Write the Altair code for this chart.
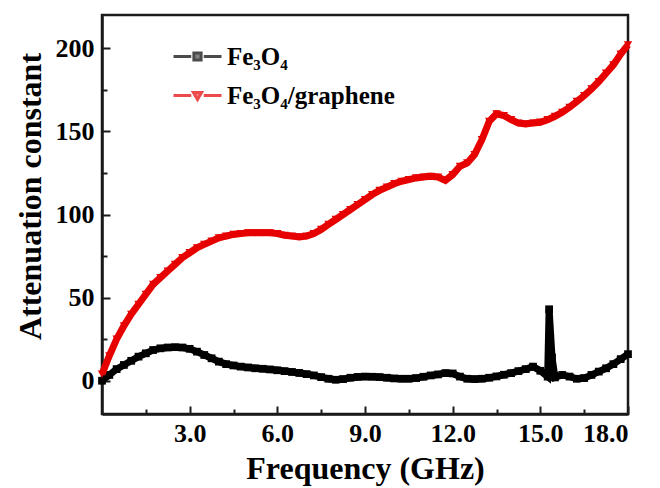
import altair as alt
import pandas as pd

# Attenuation constant vs. frequency for the two absorbers
freq_fe3o4 = [
    0.00, 0.25, 0.50, 0.75, 1.00, 1.25, 1.50, 1.75, 2.00, 2.25, 2.50, 2.75,
    3.00, 3.25, 3.50, 3.75, 4.00, 4.25, 4.50, 4.75, 5.00, 5.25, 5.50, 5.75,
    6.00, 6.25, 6.50, 6.75, 7.00, 7.25, 7.50, 7.75, 8.00, 8.25, 8.50, 8.75,
    9.00, 9.25, 9.50, 9.75, 10.00, 10.25, 10.50, 10.75, 11.00, 11.25, 11.50, 11.75,
    12.00, 12.25, 12.50, 12.75, 13.00, 13.25, 13.50, 13.75, 14.00, 14.25, 14.50, 14.75,
    15.00, 15.25, 15.30, 15.40, 15.50, 15.75, 16.00, 16.25, 16.50, 16.75, 17.00, 17.25,
    17.50, 17.75, 18.00,
]
atten_fe3o4 = [
    0.0, 3.5, 7.0, 9.5, 12.0, 14.5, 16.5, 18.5, 19.5, 20.0, 20.2, 20.0,
    19.2, 17.5, 15.5, 13.5, 11.5, 10.0, 9.2, 8.5, 8.0, 7.5, 7.2, 6.8,
    6.3, 5.8, 5.3, 4.7, 4.0, 3.2, 2.2, 1.2, 0.6, 1.0, 1.8, 2.3,
    2.5, 2.4, 2.2, 1.8, 1.4, 1.2, 1.2, 1.6, 2.4, 3.2, 3.8, 4.6,
    4.4, 2.5, 1.2, 1.0, 1.2, 1.8, 2.6, 3.6, 4.6, 5.8, 7.0, 8.5,
    6.0, 2.5, 43.0, 14.0, 2.0, 3.5, 2.5, 1.2, 1.6, 3.5, 5.5, 7.5,
    10.0, 13.0, 16.0,
]
freq_composite = [
    0.00, 0.25, 0.50, 0.75, 1.00, 1.25, 1.50, 1.75, 2.00, 2.25, 2.50, 2.75,
    3.00, 3.25, 3.50, 3.75, 4.00, 4.25, 4.50, 4.75, 5.00, 5.25, 5.50, 5.75,
    6.00, 6.25, 6.50, 6.75, 7.00, 7.25, 7.50, 7.75, 8.00, 8.25, 8.50, 8.75,
    9.00, 9.25, 9.50, 9.75, 10.00, 10.25, 10.50, 10.75, 11.00, 11.25, 11.50, 11.75,
    12.00, 12.25, 12.50, 12.75, 13.00, 13.25, 13.50, 13.75, 14.00, 14.25, 14.50, 14.75,
    15.00, 15.25, 15.50, 15.75, 16.00, 16.25, 16.50, 16.75, 17.00, 17.25, 17.50, 17.75,
    18.00,
]
atten_composite = [
    4.0, 15.0, 25.0, 33.0, 40.0, 46.0, 52.0, 58.0, 62.0, 66.0, 70.0, 74.0,
    77.0, 80.0, 82.0, 84.0, 86.0, 87.0, 88.0, 88.5, 89.0, 89.0, 89.0, 89.0,
    88.5, 87.5, 87.0, 86.5, 87.0, 88.5, 91.0, 94.0, 97.0, 100.0, 103.0, 106.0,
    109.0, 112.0, 114.5, 116.5, 118.5, 120.0, 121.0, 122.0, 122.5, 123.0, 122.5, 120.5,
    124.0, 129.0, 131.0, 136.0, 145.0, 156.0, 160.5, 159.5, 157.0, 155.0, 154.5, 155.0,
    155.5, 157.0, 159.0, 161.5, 164.5, 168.0, 171.5, 175.5, 180.0, 185.0, 190.0, 196.5,
    202.0,
]

series_names = ["Fe\u2083O\u2084", "Fe\u2083O\u2084/graphene"]
series_colors = ["#000000", "#e60000"]

x_major = [3, 6, 9, 12, 15, 18]
x_minor = [1.5, 4.5, 7.5, 10.5, 13.5, 16.5]
y_major = [0, 50, 100, 150, 200]
y_minor = [25, 75, 125, 175]
x_domain = [0, 18]
y_domain = [-20, 220]

PLOT_W, PLOT_H = 526, 399
FONT = "Liberation Serif"
FRAME = "#1a1a1a"

df_fe3o4 = pd.DataFrame({"f": freq_fe3o4, "a": atten_fe3o4})
df_composite = pd.DataFrame({"f": freq_composite, "a": atten_composite})
df_legend = pd.DataFrame({"series": series_names})

x_scale = alt.Scale(domain=x_domain, nice=False, zero=False)
y_scale = alt.Scale(domain=y_domain, nice=False, zero=False)


def enc_x(axis=None):
    return alt.X("f:Q", scale=x_scale, axis=axis)


def enc_y(axis=None):
    return alt.Y("a:Q", scale=y_scale, axis=axis)


label_style = dict(labelFont=FONT, labelFontWeight="bold", labelFontSize=26,
                   labelColor="black", titleFont=FONT, titleFontWeight="bold",
                   titleFontSize=32, titleColor="black",
                   domain=True, domainColor=FRAME, domainWidth=2.5)

x_main = alt.Axis(orient="bottom", values=x_major, format=".1f", ticks=False,
                  grid=False, labelPadding=6,
                  title="Frequency (GHz)", titlePadding=7, **label_style)
y_main = alt.Axis(orient="left", values=y_major, format="d", ticks=False,
                  grid=False, labelPadding=8, titleY=181,
                  title="Attenuation constant", titlePadding=8, **label_style)

# Fe3O4 curve
black_line = alt.Chart(df_fe3o4).mark_line(color="black", strokeWidth=7).encode(
    x=enc_x(x_main), y=enc_y(y_main))
black_pts = alt.Chart(df_fe3o4).mark_point(
    shape="square", filled=True, size=60, color="black", opacity=1).encode(
    x=enc_x(), y=enc_y())

# Fe3O4/graphene curve
red_line = alt.Chart(df_composite).mark_line(color="#e60000", strokeWidth=7).encode(
    x=enc_x(), y=enc_y())
red_pts = alt.Chart(df_composite).mark_point(
    shape="triangle-down", filled=True, size=70, color="#e60000", opacity=1).encode(
    x=enc_x(), y=enc_y())


def tick_layer(xvals, yvals, size):
    # inward-pointing ticks: opposite-side axes shifted onto the frame
    xa = alt.Axis(orient="top", offset=-PLOT_H, values=xvals, labels=False,
                  domain=False, grid=False, ticks=True, tickSize=size,
                  tickWidth=2, tickColor=FRAME, title=None)
    ya = alt.Axis(orient="right", offset=-PLOT_W, values=yvals, labels=False,
                  domain=False, grid=False, ticks=True, tickSize=size,
                  tickWidth=2, tickColor=FRAME, title=None)
    return alt.Chart(df_fe3o4).mark_point(opacity=0).encode(
        x=enc_x(xa), y=enc_y(ya))


major_ticks = tick_layer(x_major, y_major, 8)
minor_ticks = tick_layer(x_minor, y_minor, 5)

# legend entries: dashes with the marker in the middle
sym_square = "M-1,0L-0.26,0M0.26,0L1,0M-0.15,-0.15L0.15,-0.15L0.15,0.15L-0.15,0.15Z"
sym_tri = "M-1,0L-0.26,0M0.26,0L1,0M-0.17,-0.12L0.17,-0.12L0,0.17Z"
legend_props = dict(orient="none", legendX=70, legendY=16, title=None,
                    labelFont=FONT, labelFontWeight="bold", labelFontSize=25,
                    labelColor="black", symbolSize=2304, symbolStrokeWidth=3,
                    labelOffset=4, rowPadding=0, labelLimit=300)
legend_layer = alt.Chart(df_legend).mark_point(filled=True).encode(
    fill=alt.Fill("series:N", scale=alt.Scale(domain=series_names, range=series_colors),
                  legend=alt.Legend(**legend_props)),
    stroke=alt.Stroke("series:N", scale=alt.Scale(domain=series_names, range=series_colors),
                      legend=alt.Legend(**legend_props)),
    shape=alt.Shape("series:N", scale=alt.Scale(domain=series_names, range=[sym_square, sym_tri]),
                    legend=alt.Legend(**legend_props)),
).transform_filter("false")

chart = alt.layer(
    black_line, black_pts, red_line, red_pts, major_ticks, minor_ticks, legend_layer
).resolve_scale(x="independent", y="independent").properties(
    width=PLOT_W, height=PLOT_H,
    autosize=alt.AutoSizeParams(type="none"),
    padding={"left": 102, "top": 15, "right": 32, "bottom": 74},
    background="white",
).configure_view(stroke=FRAME, strokeWidth=2.5)

chart.save("out.html", embed_options={"renderer": "svg", "actions": False})
